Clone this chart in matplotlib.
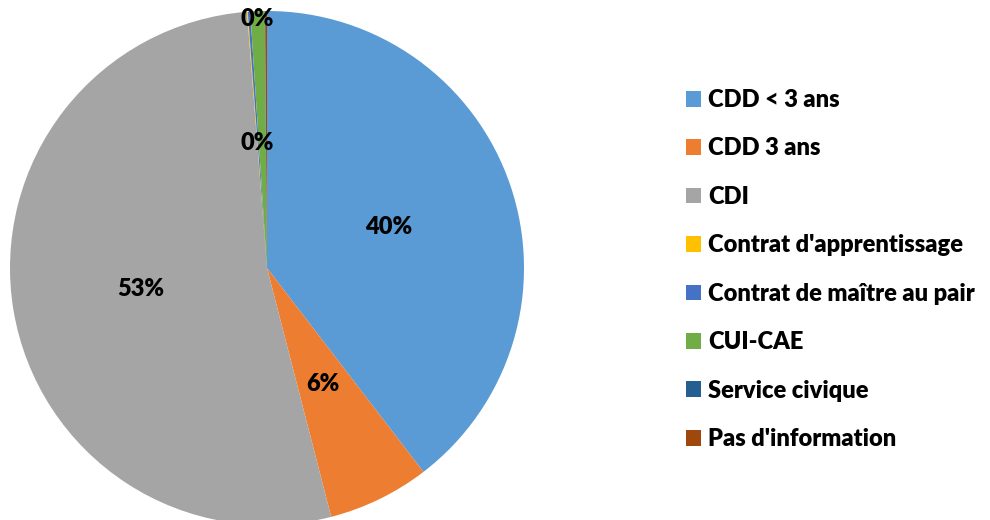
import matplotlib
matplotlib.use("Agg")
import matplotlib.pyplot as plt
import numpy as np

categories = ["CDD < 3 ans", "CDD 3 ans", "CDI", "Contrat d'apprentissage",
              "Contrat de maître au pair", "CUI-CAE", "Service civique", "Pas d'information"]
values = [39.6, 6.4, 52.8, 0.05, 0.15, 0.9, 0.02, 0.12]
colors = ["#5B9BD5", "#ED7D31", "#A5A5A5", "#FFC000", "#4472C4", "#70AD47", "#255E91", "#9E480E"]
# slices whose percentage label is shown, with radial distance of the label
shown_labels = {0: 0.5, 1: 0.5, 2: 0.5, 3: 0.49, 7: 0.98}

plt.rcParams['font.family'] = ['Lato', 'DejaVu Sans']

fig = plt.figure(figsize=(9.9, 5.2), dpi=100)
ax = fig.add_axes([10/990, (252-257)/520, 514/990, 514/520])
wedges, _ = ax.pie(values, colors=colors, startangle=90, counterclock=False,
                   radius=1.0, wedgeprops=dict(linewidth=0))
ax.set_xlim(-1, 1)
ax.set_ylim(-1, 1)
ax.set_aspect('equal')
ax.axis('off')

total = sum(values)
for i, w in enumerate(wedges):
    if i not in shown_labels:
        continue
    ang = np.deg2rad((w.theta1 + w.theta2) / 2)
    r = shown_labels[i]
    x, y = r * np.cos(ang), r * np.sin(ang)
    if i == 7:
        x, y = -0.04, 0.97
    if i == 3:
        x, y = -0.04, 0.487
    ax.text(x, y, f"{round(values[i] / total * 100):.0f}%", ha='center', va='center',
            fontsize=17, fontweight='heavy', color='black')

leg = fig.legend(wedges, categories, loc='upper left', bbox_to_anchor=(686/990, 1 - 89/520),
                 frameon=False, prop={'weight': 'heavy', 'size': 17},
                 handlelength=0.65, handleheight=0.65, handletextpad=0.3,
                 labelspacing=1.12, borderaxespad=0, borderpad=0)

fig.savefig("out.png", dpi=100)
